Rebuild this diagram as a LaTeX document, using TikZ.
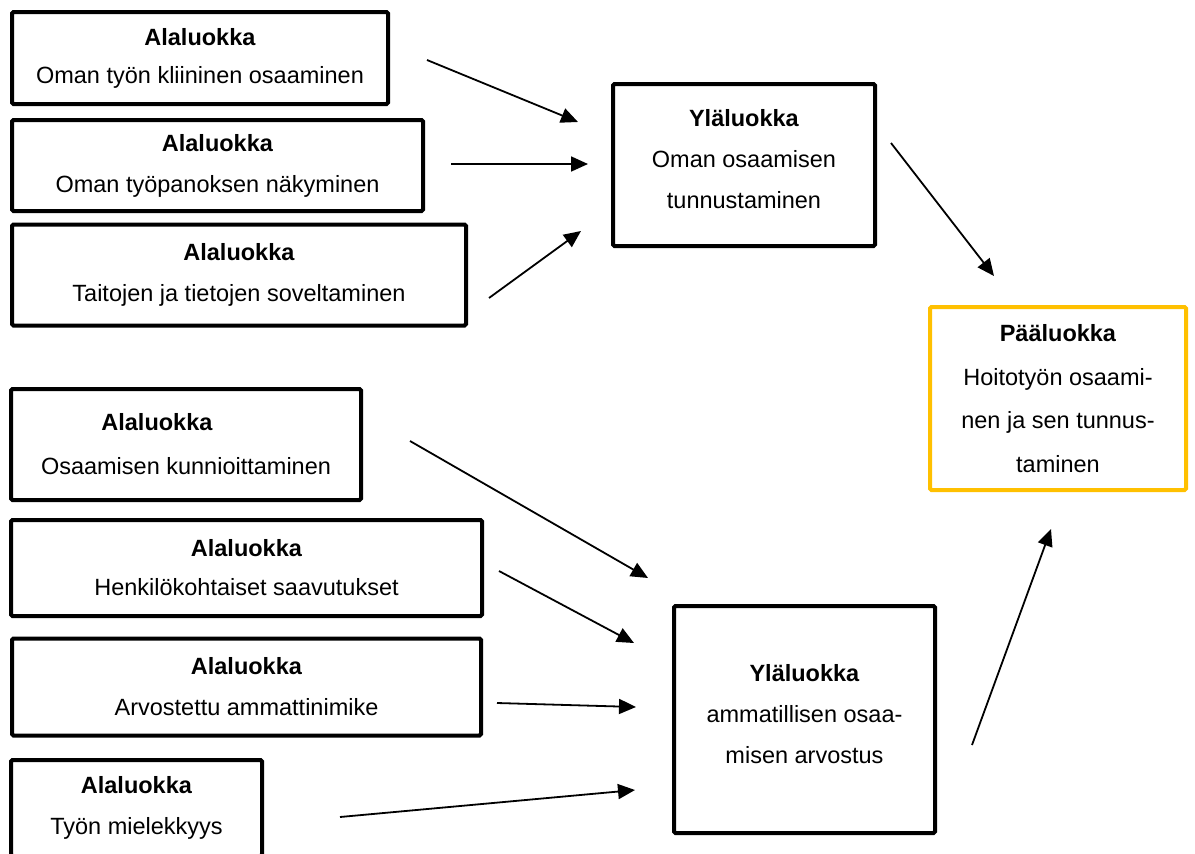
\documentclass[tikz,border=0pt]{standalone}
\usepackage{fontspec}
\setmainfont{Liberation Sans}
\usetikzlibrary{arrows.meta}
\definecolor{mainyellow}{HTML}{FFC000}

\begin{document}
\begin{tikzpicture}[x=1pt,y=-1pt,
  box/.style={draw=black, line width=4pt, rounded corners=1.5pt, fill=white,
    inner sep=0pt, align=center, font=\fontsize{23.5}{41}\selectfont},
  mainbox/.style={box, draw=mainyellow, font=\fontsize{23.5}{43.5}\selectfont},
  link/.style={line width=1.8pt, -{Triangle[length=17pt,width=15pt]}}
]
\useasboundingbox (0,0) rectangle (1195,854);
\fill[white] (0,0) rectangle (1195,854);
\clip (0,0) rectangle (1195,854);

% Subcategory boxes, upper group
\node[box, minimum width=376pt, minimum height=92pt] (a1) at (200,58)
  {\textbf{Alaluokka}\\[-3pt] Oman työn kliininen osaaminen};
\node[box, minimum width=411pt, minimum height=91pt] (a2) at (217.5,165.5)
  {\textbf{Alaluokka}\\ Oman työpanoksen näkyminen};
\node[box, minimum width=454pt, minimum height=101pt] (a3) at (239,275)
  {\textbf{Alaluokka}\\ Taitojen ja tietojen soveltaminen};

% Subcategory boxes, lower group
\node[box, minimum width=350pt, minimum height=111pt] (a4) at (186,444.5)
  {\textbf{Alaluokka}\rule{58pt}{0pt}\\[3pt] Osaamisen kunnioittaminen};
\node[box, minimum width=471pt, minimum height=96pt] (a5) at (246.5,568)
  {\textbf{Alaluokka}\\[-2pt] Henkilökohtaiset saavutukset};
\node[box, minimum width=469pt, minimum height=97pt] (a6) at (246.5,687)
  {\textbf{Alaluokka}\\ Arvostettu ammattinimike};
\node[box, minimum width=251pt, minimum height=96pt] (a7) at (136.5,808)
  {\textbf{Alaluokka}\\ Työn mielekkyys};

% Upper-level categories (text sits slightly above the middle)
\node[box, minimum width=262pt, minimum height=162pt] (y1) at (744,165)
  {\textbf{Yläluokka}\\ Oman osaamisen\\ tunnustaminen\\[-29pt]\mbox{}};
\node[box, minimum width=261pt, minimum height=227pt] (y2) at (804.5,719.5)
  {\textbf{Yläluokka}\\ ammatillisen osaa-\\ misen arvostus\\[-29pt]\mbox{}};

% Main category
\node[mainbox, minimum width=256pt, minimum height=183pt] (p) at (1058,398.5)
  {\textbf{Pääluokka}\\ Hoitotyön osaami-\\ nen ja sen tunnus-\\ taminen};

% Arrow end points
\coordinate (a1s) at (427,60);   \coordinate (y1t1) at (578,122);
\coordinate (a2s) at (451,164);  \coordinate (y1t2) at (588,164);
\coordinate (a3s) at (489,298);  \coordinate (y1t3) at (581,231);
\coordinate (y1s) at (891,143);  \coordinate (pt1) at (994,276);
\coordinate (a4s) at (410,441);  \coordinate (y2t1) at (648,578);
\coordinate (a5s) at (499,571);  \coordinate (y2t2) at (634,643);
\coordinate (a6s) at (497,703);  \coordinate (y2t3) at (636,707);
\coordinate (a7s) at (340,817);  \coordinate (y2t4) at (635,790);
\coordinate (y2s) at (972,745);  \coordinate (pt2) at (1051,529);

\draw[link] (a1s) -- (y1t1);
\draw[link] (a2s) -- (y1t2);
\draw[link] (a3s) -- (y1t3);
\draw[link] (y1s) -- (pt1);
\draw[link] (a4s) -- (y2t1);
\draw[link] (a5s) -- (y2t2);
\draw[link] (a6s) -- (y2t3);
\draw[link] (a7s) -- (y2t4);
\draw[link] (y2s) -- (pt2);
\end{tikzpicture}
\end{document}
